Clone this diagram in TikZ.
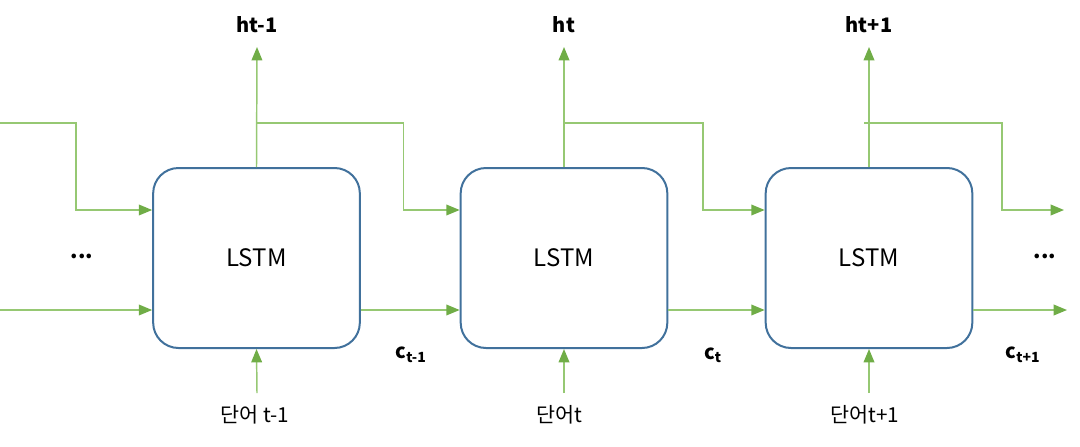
\documentclass[tikz,border=0pt]{standalone}
\usepackage{fontspec}
\setmainfont{Noto Sans CJK KR}
\usetikzlibrary{arrows.meta,positioning}
\definecolor{lgreen}{RGB}{150,200,115}
\definecolor{dgreen}{RGB}{112,173,71}
\definecolor{boxblue}{RGB}{65,113,156}
\begin{document}
\begin{tikzpicture}[x=0.75pt, y=-0.75pt, >=Triangle,
          cell/.style={draw=boxblue, line width=1.5pt, rounded corners=19pt,
            minimum width=155pt, minimum height=135pt, font=\fontsize{18}{20}\selectfont},
          flow/.style={draw=lgreen, line width=1.1pt,
            -{Triangle[length=10pt, width=8pt, color=dgreen]}},
          hlab/.style={font=\fontsize{15}{17}\selectfont\bfseries},
          clab/.style={font=\fontsize{15}{17}\selectfont\bfseries},
          wlab/.style={font=\fontsize{15.5}{17}\selectfont},
          dots/.style={font=\fontsize{16}{18}\selectfont\bfseries}]
        \useasboundingbox (0,0) rectangle (1080,446);
        % rows
        \coordinate (brow) at (0,123);
        \coordinate (hrow) at (0,210);
        \coordinate (crow) at (0,310);
        % cells
        \node[cell] (l1) at (256.5,258) {LSTM};
        \node[cell] (l2) at (564,258) {LSTM};
        \node[cell] (l3) at (869,258) {LSTM};
        % outputs
        \coordinate (o1) at (257,47);
        \coordinate (o2) at (564,47);
        \coordinate (o3) at (869,47);
        \node[hlab] (h1) at (257,25) {ht-1};
        \node[hlab] (h2) at (564,25) {ht};
        \node[hlab] (h3) at (869,25) {ht+1};
        \draw[flow] (l1.north) -- (o1);
        \draw[flow] (l2.north) -- (o2);
        \draw[flow] (l3.north) -- (o3);
        % hidden state
        \coordinate (hin) at (0,123);
        \coordinate (hout) at (1064,210);
        \draw[flow] (hin) -- ++(76,0) |- (l1.west |- hrow);
        \draw[flow] (l1.north |- brow) -- ++(147,0) |- (l2.west |- hrow);
        \draw[flow] (l2.north |- brow) -- ++(139,0) |- (l3.west |- hrow);
        \draw[flow] (l3.north |- brow) ++(-5,0) -- ++(138,0) |- (hout);
        % cell state
        \coordinate (cin) at (0,310);
        \coordinate (cout) at (1067,310);
        \draw[flow] (cin) -- (l1.west |- crow);
        \draw[flow] (l1.east |- crow) -- (l2.west |- crow);
        \draw[flow] (l2.east |- crow) -- (l3.west |- crow);
        \draw[flow] (l3.east |- crow) -- (cout);
        \node[clab] (c1) at (411,355) {c\textsubscript{t-1}};
        \node[clab] (c2) at (713,355) {c\textsubscript{t}};
        \node[clab] (c3) at (1023,355) {c\textsubscript{t+1}};
        % words
        \coordinate (w1) at (257,393);
        \coordinate (w2) at (564,393);
        \coordinate (w3) at (869,393);
        \draw[flow] (w1) -- (l1.south);
        \draw[flow] (w2) -- (l2.south);
        \draw[flow] (w3) -- (l3.south);
        \node[wlab] (x1) at (255,415) {단어 t-1};
        \node[wlab] (x2) at (559,415) {단어t};
        \node[wlab] (x3) at (865,415) {단어t+1};
        % more cells
        \node[dots] (d1) at (82,256) {...};
        \node[dots] (d2) at (1045,256) {...};
      \end{tikzpicture}
\end{document}
